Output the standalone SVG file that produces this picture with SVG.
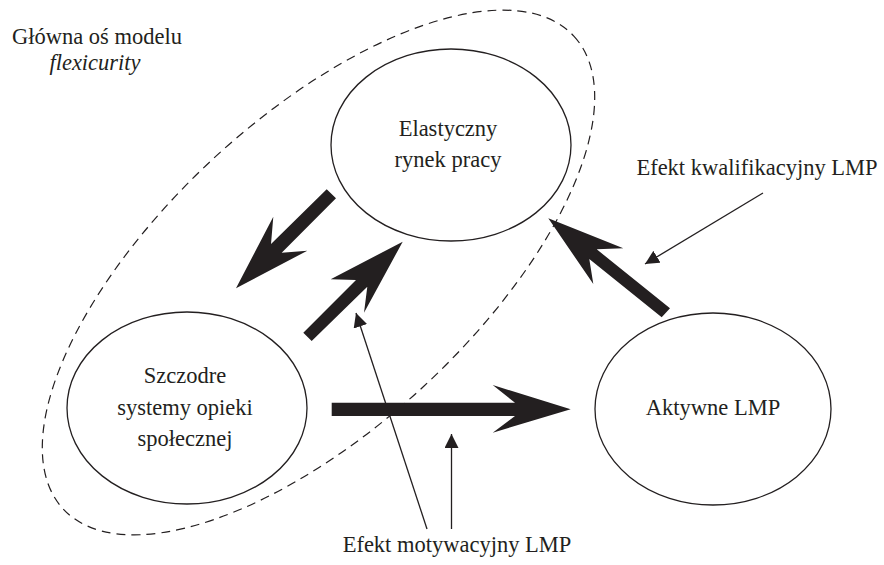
<svg xmlns="http://www.w3.org/2000/svg" width="884" height="565" viewBox="0 0 884 565">
<defs>
<style>
.node{fill:none;stroke:#231f20;stroke-width:1.3}
.t{font-family:"Liberation Serif","Times New Roman",serif;font-size:22.5px;fill:#231f20;text-anchor:middle}
.thick{fill:#231f20;stroke:none}
.thin{stroke:#231f20;stroke-width:1.3;fill:none}
.dash{fill:none;stroke:#231f20;stroke-width:1.2;stroke-dasharray:9 6}
</style>
<marker id="ah" viewBox="0 0 10 10" refX="10" refY="5" markerWidth="14" markerHeight="14" markerUnits="userSpaceOnUse" orient="auto">
<path d="M0,0 L10,5 L0,10 z" fill="#231f20"/>
</marker>
</defs>
<rect width="884" height="565" fill="#ffffff"/>
<g id="axis">
<ellipse class="dash" cx="318.5" cy="272.5" rx="348" ry="155" transform="rotate(-42.8 318.5 272.5)"/>
<text class="t" x="97" y="44" font-size="22px">Główna oś modelu</text>
<text class="t" x="95" y="70" font-size="22px" font-style="italic">flexicurity</text>
</g>
<g id="elastyczny">
<ellipse class="node" cx="451" cy="145" rx="120" ry="96"/>
<text class="t" x="448" y="136">Elastyczny</text>
<text class="t" x="448" y="167">rynek pracy</text>
</g>
<g id="szczodre">
<ellipse class="node" cx="187" cy="408" rx="120" ry="96"/>
<text class="t" x="185" y="383">Szczodre</text>
<text class="t" x="185" y="415">systemy opieki</text>
<text class="t" x="185" y="446">społecznej</text>
</g>
<g id="aktywne">
<ellipse class="node" cx="713" cy="409" rx="118" ry="96"/>
<text class="t" x="713" y="415">Aktywne LMP</text>
</g>
<g id="connectors">
<path class="thick" d="M326.7,189.3 L336,198.3 L281.7,252.7 L307.3,250.7 L236,288.3 L273.3,216.7 L271,244 Z"/>
<path class="thick" d="M303.3,332.7 L311.7,341 L367.3,286.7 L364,312.7 L402.7,241.7 L330.7,279.3 L356,280 Z"/>
<path class="thick" d="M331.7,402.7 L515,402.7 L492.7,385 L570.7,409.3 L492.7,432.7 L515,416 L331.7,416 Z"/>
<path class="thick" d="M670,308.3 L661.7,317.3 L589.3,259 L593.3,284 L548.3,218.3 L623.3,248.3 L596.7,249.3 Z"/>
<line class="thin" x1="763" y1="193" x2="645" y2="264" marker-end="url(#ah)"/>
<line class="thin" x1="427" y1="529" x2="356" y2="313" marker-end="url(#ah)"/>
<line class="thin" x1="451.5" y1="529" x2="451.5" y2="434" marker-end="url(#ah)"/>
</g>
<g id="labels">
<text class="t" x="757" y="175">Efekt kwalifikacyjny LMP</text>
<text class="t" x="457" y="552">Efekt motywacyjny LMP</text>
</g>
</svg>
